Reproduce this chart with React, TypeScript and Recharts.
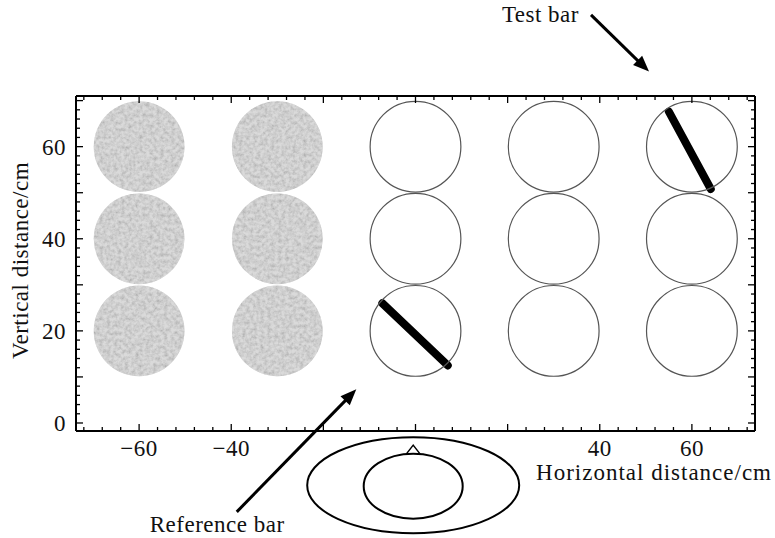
import { ScatterChart, Scatter, XAxis, YAxis, ReferenceLine, ReferenceDot } from 'recharts';

// tick positions (cm)
const X_TICKS = [-72, -68, -64, -60, -56, -52, -48, -44, -40, -36, -32, -28, -24, -20, -16, -12, -8, -4, 0, 4, 8, 12, 16, 20, 24, 28, 32, 36, 40, 44, 48, 52, 56, 60, 64, 68, 72];
const Y_TICKS = [0, 2, 4, 6, 8, 10, 12, 14, 16, 18, 20, 22, 24, 26, 28, 30, 32, 34, 36, 38, 40, 42, 44, 46, 48, 50, 52, 54, 56, 58, 60, 62, 64, 66, 68, 70];
const X_LABELS = [-60, -40, 40, 60];
const Y_LABELS = [0, 20, 40, 60];

// disc positions (cm)
const grayDiscs = [
  { x: -60, y: 20 }, { x: -60, y: 40 }, { x: -60, y: 60 },
  { x: -30, y: 20 }, { x: -30, y: 40 }, { x: -30, y: 60 },
];
const openDiscs = [
  { x: 0, y: 20 }, { x: 0, y: 40 }, { x: 0, y: 60 },
  { x: 30, y: 20 }, { x: 30, y: 40 }, { x: 30, y: 60 },
  { x: 60, y: 20 }, { x: 60, y: 40 }, { x: 60, y: 60 },
];

// bars (end points, cm)
const referenceBar = [{ x: -7.2, y: 26.0 }, { x: 7.0, y: 12.5 }];
const testBar = [{ x: 55.0, y: 67.6 }, { x: 64.1, y: 50.8 }];

// annotation arrows: tail -> tip (cm)
const testArrow = [{ x: 38.1, y: 88.6 }, { x: 50.7, y: 76.3 }];
const referenceArrow = [{ x: -38.8, y: -19.3 }, { x: -12.85, y: 7.3 }];
const annotations = ['Test bar', 'Reference bar'];

// observer's head position (cm)
const head = { x: -0.5, y: -13.5 };

const X_DOMAIN = [-73.7, 73.7];
const Y_DOMAIN = [-1.74, 71];

const W = 775;
const H = 538;
const PLOT_W = 679;
const DISC_R = 9.85 * PLOT_W / (X_DOMAIN[1] - X_DOMAIN[0]);

const FONT = '"Liberation Serif", "Times New Roman", serif';
const FS = 23;

const fmt = (v: number) => (v < 0 ? `\u2212${-v}` : `${v}`);

const BottomTick = ({ x, y, payload }: any) => {
  const v = payload.value;
  const len = v % 20 === 0 ? 6 : 3;
  return (
    <g>
      <line x1={x} x2={x} y1={y - 1} y2={y - 1 - len} stroke="#000" strokeWidth={1.3} />
      {X_LABELS.includes(v) && (
        <text x={x} y={y + 24.5} textAnchor="middle" fontFamily={FONT} fontSize={FS} fill="#111" letterSpacing={0.5}>
          {fmt(v)}
        </text>
      )}
    </g>
  );
};

const TopTick = ({ x, y, payload }: any) => {
  const len = payload.value % 20 === 0 ? 6 : 3;
  return <line x1={x} x2={x} y1={y + 1} y2={y + 1 + len} stroke="#000" strokeWidth={1.3} />;
};

const LeftTick = ({ x, y, payload }: any) => {
  const v = payload.value;
  const len = v % 10 === 0 ? 6 : 3;
  return (
    <g>
      <line x1={x + 1} x2={x + 1 + len} y1={y} y2={y} stroke="#000" strokeWidth={1.3} />
      {Y_LABELS.includes(v) && (
        <text x={x - 10} y={y + 8} textAnchor="end" fontFamily={FONT} fontSize={FS} fill="#111" letterSpacing={0.5}>
          {fmt(v)}
        </text>
      )}
    </g>
  );
};

const RightTick = ({ x, y, payload }: any) => {
  const len = payload.value % 10 === 0 ? 6 : 3;
  return <line x1={x - 1} x2={x - 1 - len} y1={y} y2={y} stroke="#000" strokeWidth={1.3} />;
};

const GrayDisc = ({ cx, cy }: any) => (
  <g>
    <circle cx={cx} cy={cy} r={DISC_R} fill="#c6c6c6" />
    <circle cx={cx} cy={cy} r={DISC_R} fill="#808080" filter="url(#grain)" />
  </g>
);

const OpenDisc = ({ cx, cy }: any) => (
  <circle cx={cx} cy={cy} r={DISC_R} fill="none" stroke="#555" strokeWidth={1.2} />
);

const Bar = ({ x1, y1, x2, y2 }: any) => (
  <line x1={x1} y1={y1} x2={x2} y2={y2} stroke="#000" strokeWidth={8} strokeLinecap="round" />
);

const makeArrow = (label: string, side: 'left' | 'below') => ({ x1, y1, x2, y2 }: any) => {
  const dx = x2 - x1;
  const dy = y2 - y1;
  const L = Math.sqrt(dx * dx + dy * dy);
  const ux = dx / L;
  const uy = dy / L;
  const hl = 16;
  const hw = 6.5;
  const bx = x2 - ux * hl;
  const by = y2 - uy * hl;
  const pts = `${x2},${y2} ${bx - uy * hw},${by + ux * hw} ${bx + uy * hw},${by - ux * hw}`;
  return (
    <g>
      <line x1={x1} y1={y1} x2={bx + ux * 2} y2={by + uy * 2} stroke="#000" strokeWidth={3} />
      <polygon points={pts} fill="#000" />
      {side === 'left' ? (
        <text x={x1 - 12} y={y1 + 7} textAnchor="end" fontFamily={FONT} fontSize={FS} fill="#111" letterSpacing={0.5}>
          {label}
        </text>
      ) : (
        <text x={x1 - 87} y={y1 + 20.5} textAnchor="start" fontFamily={FONT} fontSize={FS} fill="#111" letterSpacing={0.5}>
          {label}
        </text>
      )}
    </g>
  );
};

const Head = ({ cx, cy }: any) => (
  <g>
    <defs>
      <filter id="grain" x="0" y="0" width="100%" height="100%">
        <feTurbulence type="fractalNoise" baseFrequency="0.28" numOctaves={3} seed={5} result="n" />
        <feColorMatrix in="n" type="matrix" values="1.3 0 0 0 0.1  1.3 0 0 0 0.1  1.3 0 0 0 0.1  0 0 0 0 0.35" result="g" />
        <feComposite in="g" in2="SourceGraphic" operator="in" />
      </filter>
    </defs>
    <ellipse cx={cx} cy={cy} rx={106} ry={48} fill="none" stroke="#000" strokeWidth={2} />
    <ellipse cx={cx} cy={cy + 1} rx={49.5} ry={32.5} fill="none" stroke="#000" strokeWidth={2} />
    <polyline points={`${cx - 7},${cy - 31} ${cx},${cy - 40} ${cx + 7},${cy - 31}`} fill="none" stroke="#000" strokeWidth={1.5} />
  </g>
);

const axisLine = { stroke: '#000', strokeWidth: 2 };

export default function App() {
  return (
    <div style={{ position: 'absolute', left: 0, top: 0, background: '#fff' }}>
      <ScatterChart width={W} height={H} margin={{ top: 95, right: 19, bottom: 0, left: 0 }}>
        <XAxis
          type="number"
          dataKey="x"
          domain={X_DOMAIN}
          allowDataOverflow
          ticks={X_TICKS}
          interval={0}
          tickSize={0}
          tickMargin={0}
          tick={BottomTick}
          tickLine={false}
          axisLine={axisLine}
          height={107}
          label={(p: any) => {
            const vb = p.viewBox;
            return (
              <text x={vb.x + vb.width + 17} y={vb.y + 49} textAnchor="end" fontFamily={FONT} fontSize={FS} fill="#111" letterSpacing={1}>
                Horizontal distance/cm
              </text>
            );
          }}
        />
        <XAxis
          xAxisId="t"
          orientation="top"
          type="number"
          dataKey="x"
          domain={X_DOMAIN}
          allowDataOverflow
          ticks={X_TICKS}
          interval={0}
          tickSize={0}
          tickMargin={0}
          tick={TopTick}
          tickLine={false}
          axisLine={axisLine}
          height={1}
        />
        <YAxis
          type="number"
          dataKey="y"
          domain={Y_DOMAIN}
          allowDataOverflow
          ticks={Y_TICKS}
          interval={0}
          tickSize={0}
          tickMargin={0}
          tick={LeftTick}
          tickLine={false}
          axisLine={axisLine}
          width={76}
          label={(p: any) => {
            const vb = p.viewBox;
            const cx = 20;
            const cy = vb.y + vb.height / 2 - 3;
            return (
              <text x={cx} y={cy} transform={`rotate(-90 ${cx} ${cy})`} textAnchor="middle" dominantBaseline="central" fontFamily={FONT} fontSize={FS} fill="#111" letterSpacing={0.5}>
                Vertical distance/cm
              </text>
            );
          }}
        />
        <YAxis
          yAxisId="r"
          orientation="right"
          type="number"
          dataKey="y"
          domain={Y_DOMAIN}
          allowDataOverflow
          ticks={Y_TICKS}
          interval={0}
          tickSize={0}
          tickMargin={0}
          tick={RightTick}
          tickLine={false}
          axisLine={axisLine}
          width={1}
        />
        <Scatter data={grayDiscs} shape={GrayDisc} isAnimationActive={false} />
        <Scatter data={openDiscs} shape={OpenDisc} isAnimationActive={false} />
        <ReferenceLine segment={referenceBar} shape={Bar} ifOverflow="visible" />
        <ReferenceLine segment={testBar} shape={Bar} ifOverflow="visible" />
        <ReferenceLine segment={testArrow} shape={makeArrow(annotations[0], 'left')} ifOverflow="visible" />
        <ReferenceLine segment={referenceArrow} shape={makeArrow(annotations[1], 'below')} ifOverflow="visible" />
        <ReferenceDot x={head.x} y={head.y} shape={Head} ifOverflow="visible" />
      </ScatterChart>
    </div>
  );
}
